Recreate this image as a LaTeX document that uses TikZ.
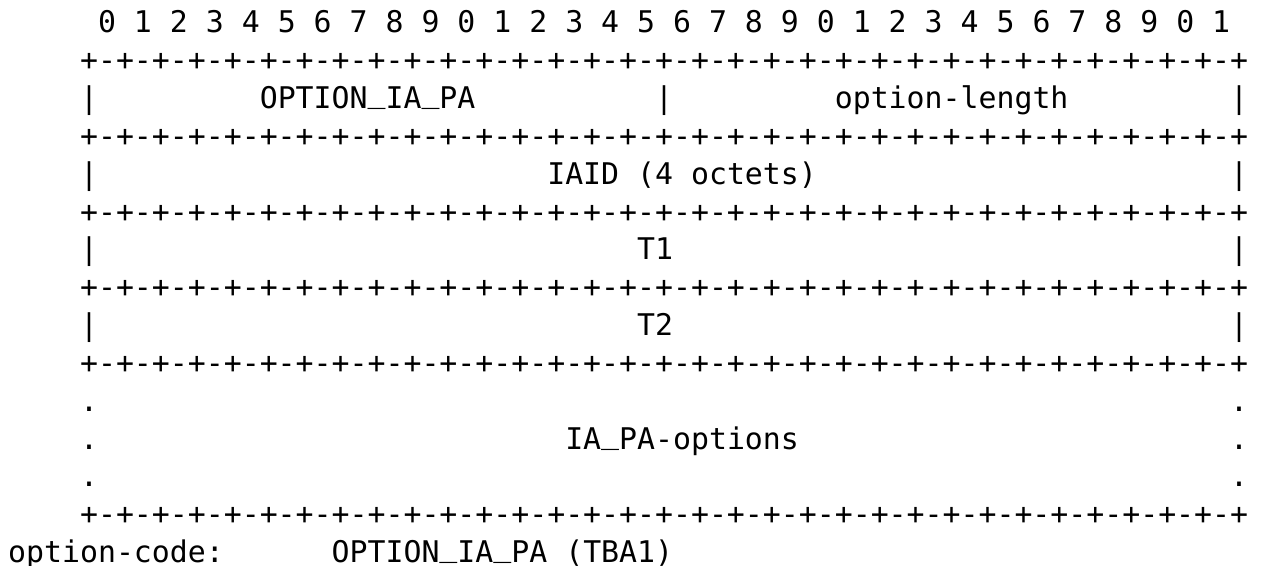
\documentclass[tikz,border=0pt]{standalone}
\usepackage{fontspec}
\newfontfamily\monofont{DejaVu Sans Mono}
\newcommand{\us}{\raisebox{0.2em}{\char"5F}}
\usetikzlibrary{positioning}

\begin{document}
\begin{tikzpicture}[x=17.97pt, y=-37.83pt,
    cell/.style={anchor=base west, inner sep=0pt, font=\monofont\fontsize{29.85}{36}\selectfont}]
    \useasboundingbox (-0.445,-0.872) rectangle (69.838,14.089);

    % Bit numbers
    \foreach \b [evaluate=\b as \d using {int(mod(\b,10))}] in {0,...,31}
        \node[cell] (bit\b) at (5+2*\b, 0) {\d};

    % Row borders
    \foreach \r in {1,3,5,7,9,13}
        \node[cell] (border\r) at (4, \r) {+-+-+-+-+-+-+-+-+-+-+-+-+-+-+-+-+-+-+-+-+-+-+-+-+-+-+-+-+-+-+-+-+};

    % Side bars
    \foreach \r in {2,4,6,8} {
        \node[cell] (left\r) at (4, \r) {|};
        \node[cell] (right\r) at (68, \r) {|};
    }
    \node[cell] (mid2) at (36, 2) {|};

    % Variable length part
    \foreach \r in {10,11,12} {
        \node[cell] (ldot\r) at (4, \r) {.};
        \node[cell] (rdot\r) at (68, \r) {.};
    }

    % Fields
    \node[cell] (code) at (14, 2) {OPTION\us IA\us PA};
    \node[cell] (len) at (46, 2) {option-length};
    \node[cell] (iaid) at (30, 4) {IAID (4 octets)};
    \node[cell] (tone) at (35, 6) {T1};
    \node[cell] (ttwo) at (35, 8) {T2};
    \node[cell] (opts) at (31, 11) {IA\us PA-options};

    % Option code
    \node[cell] (oclabel) at (0, 14) {option-code:};
    \node[cell] (ocvalue) at (18, 14) {OPTION\us IA\us PA (TBA1)};
\end{tikzpicture}
\end{document}
